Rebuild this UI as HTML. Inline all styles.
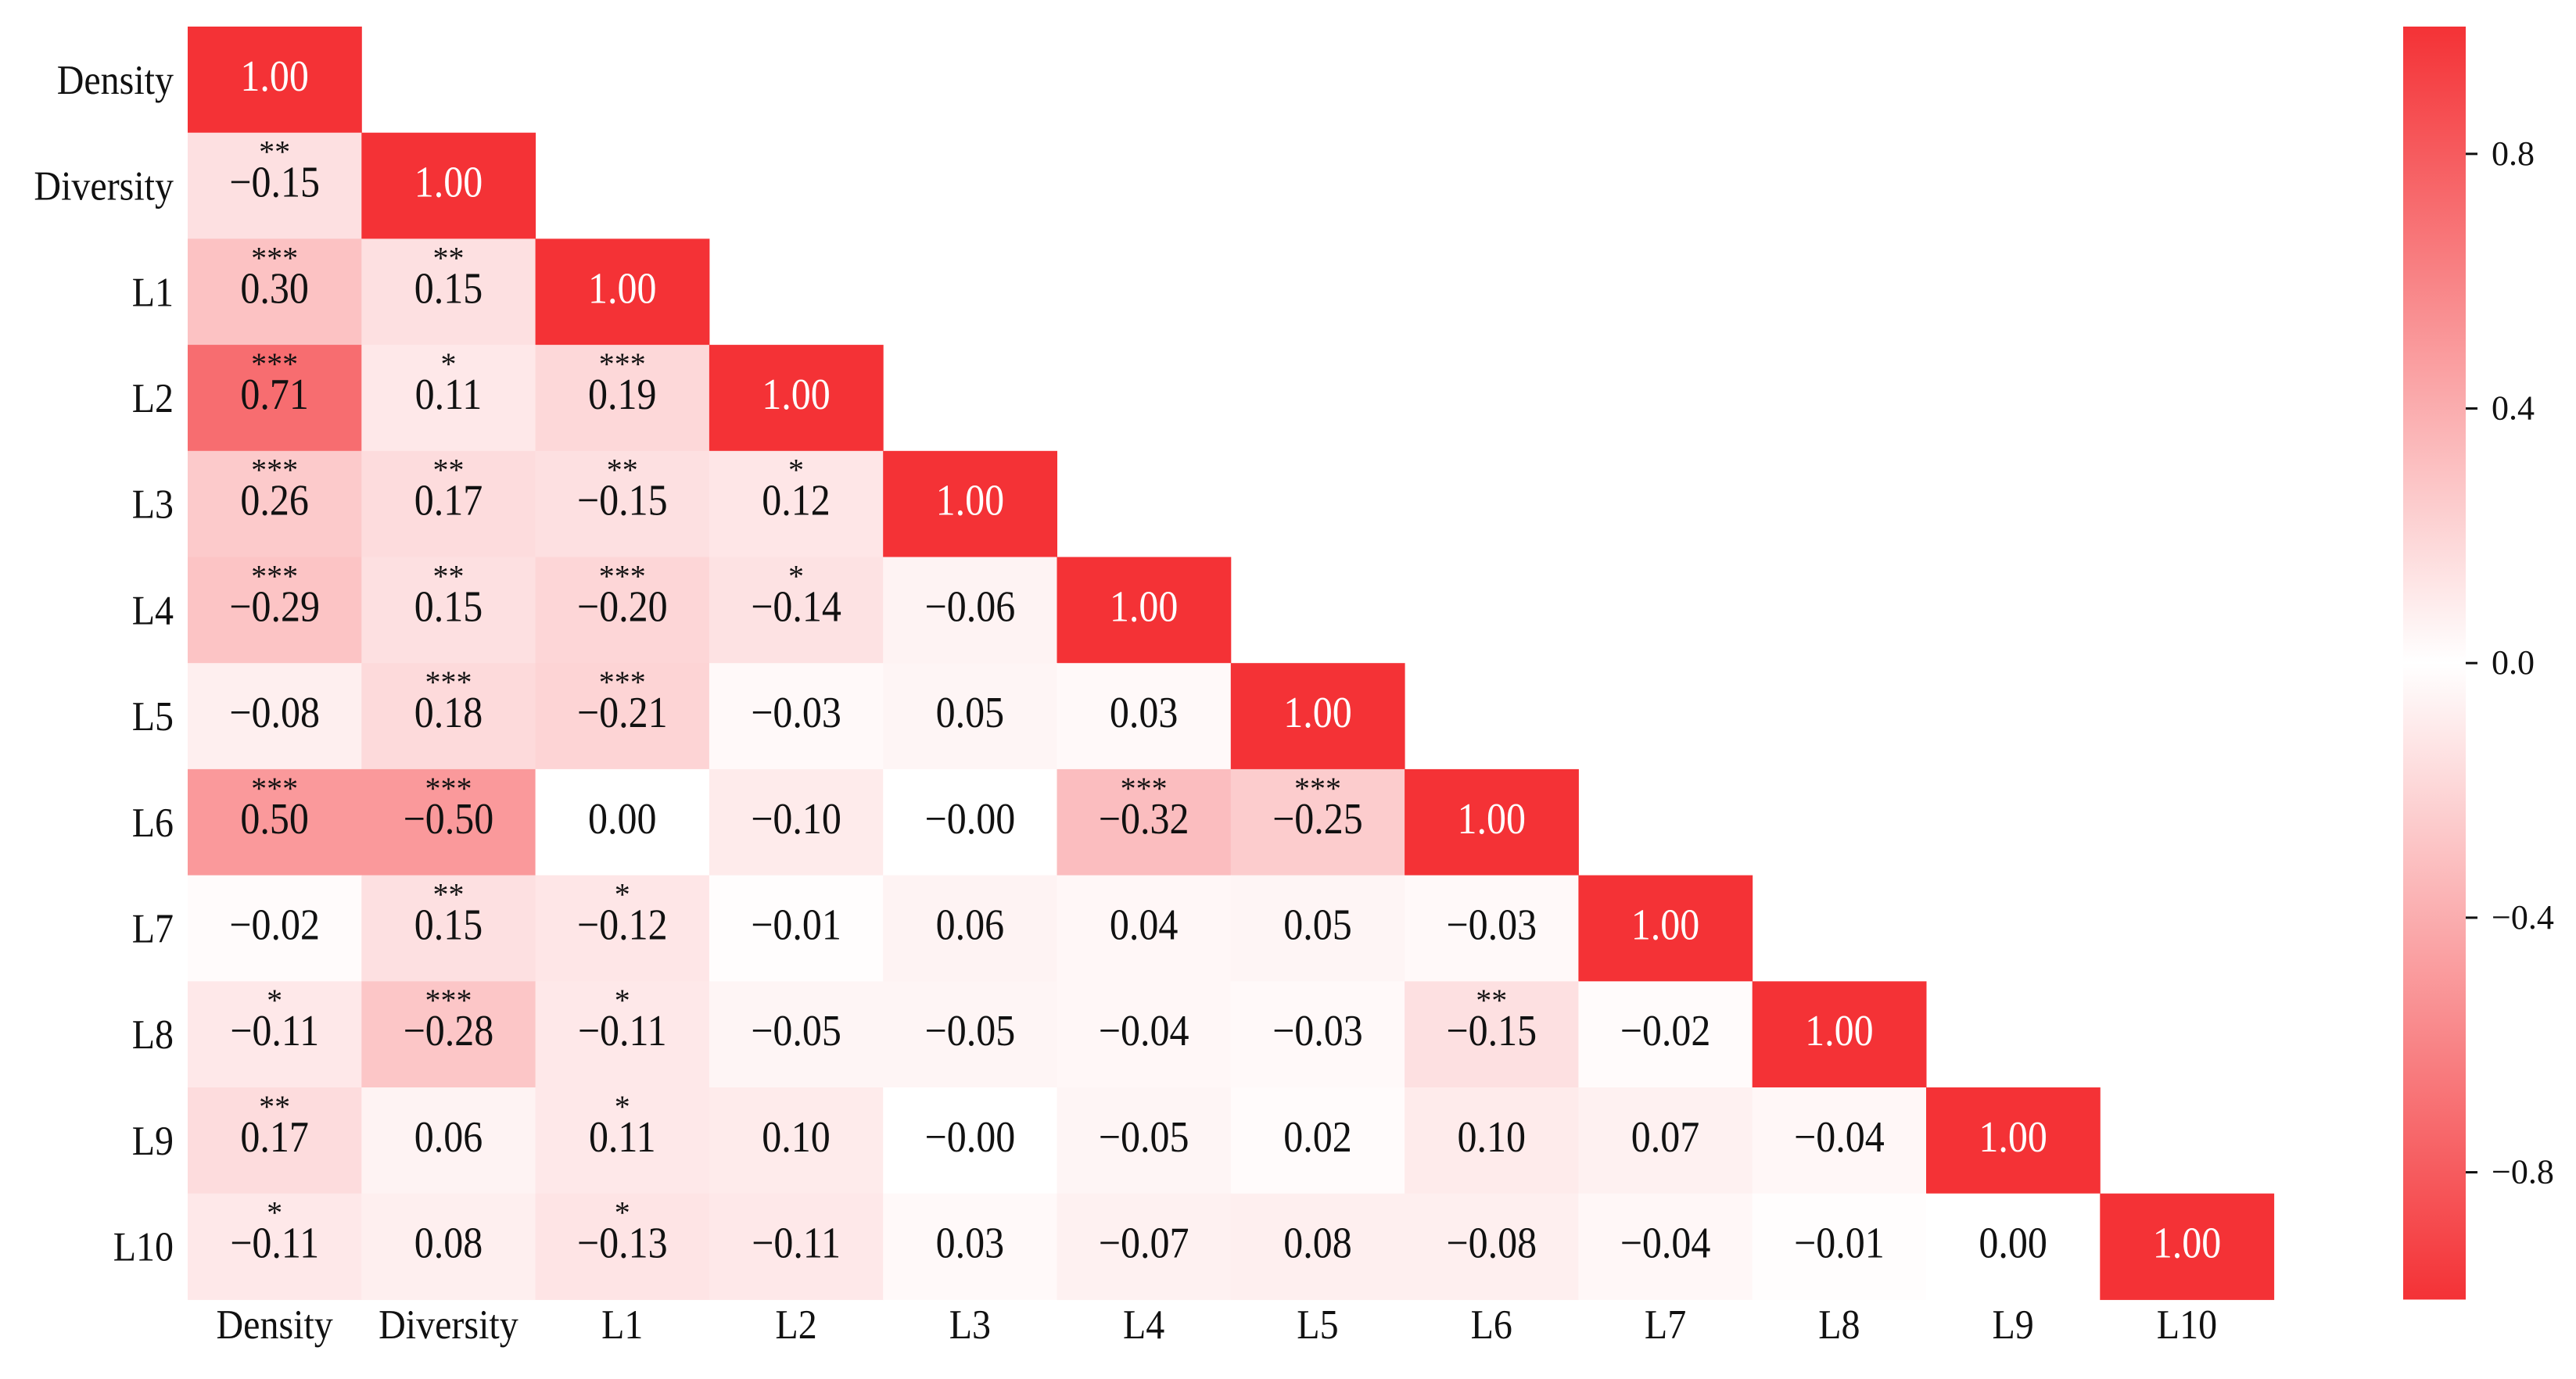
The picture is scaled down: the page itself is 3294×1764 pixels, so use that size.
<!DOCTYPE html>
<html><head><meta charset="utf-8"><style>
html,body{margin:0;padding:0;background:#fff;}
svg{display:block;font-family:"Liberation Serif",serif;}
</style></head><body>
<svg id="chart" width="3294" height="1764" viewBox="0 0 3294 1764" xmlns="http://www.w3.org/2000/svg">
<defs>
<linearGradient id="cbg" x1="0" y1="0" x2="0" y2="1">
<stop offset="0" stop-color="#f43236"/>
<stop offset="0.5" stop-color="#ffffff"/>
<stop offset="1" stop-color="#f43236"/>
</linearGradient>
</defs>
<g id="cells"></g>
<g id="labels"></g>
<g id="cbar"></g>
</svg>
<script>
const labels = ["Density","Diversity","L1","L2","L3","L4","L5","L6","L7","L8","L9","L10"];
const values = [
 [1],
 [-0.15,1],
 [0.30,0.15,1],
 [0.71,0.11,0.19,1],
 [0.26,0.17,-0.15,0.12,1],
 [-0.29,0.15,-0.20,-0.14,-0.06,1],
 [-0.08,0.18,-0.21,-0.03,0.05,0.03,1],
 [0.50,-0.50,0.00,-0.10,-0.001,-0.32,-0.25,1],
 [-0.02,0.15,-0.12,-0.01,0.06,0.04,0.05,-0.03,1],
 [-0.11,-0.28,-0.11,-0.05,-0.05,-0.04,-0.03,-0.15,-0.02,1],
 [0.17,0.06,0.11,0.10,-0.001,-0.05,0.02,0.10,0.07,-0.04,1],
 [-0.11,0.08,-0.13,-0.11,0.03,-0.07,0.08,-0.08,-0.04,-0.01,0.00,1]
];
const stars = [
 [""],
 ["**",""],
 ["***","**",""],
 ["***","*","***",""],
 ["***","**","**","*",""],
 ["***","**","***","*","",""],
 ["","***","***","","","",""],
 ["***","***","","","","***","***",""],
 ["","**","*","","","","","",""],
 ["*","***","*","","","","","**","",""],
 ["**","","*","","","","","","","",""],
 ["*","","*","","","","","","","","",""]
];
const cbTicks = [0.8,0.4,0.0,-0.4,-0.8];

const NS="http://www.w3.org/2000/svg";
const L=240,T=34,CW=222.3,CH=135.7,n=labels.length;
const xPos=j=>L+j*CW, yPos=i=>T+i*CH;
const cbTop=T, cbBot=T+n*CH;
const cbY=v=>cbTop+(1-v)/2*(cbBot-cbTop);
function color(v){const a=Math.min(1,Math.abs(v));
 const r=Math.round(255-a*(255-244)),g=Math.round(255-a*(255-50)),b=Math.round(255-a*(255-54));
 return `rgb(${r},${g},${b})`;}
function fmt(v){const s=Math.abs(v).toFixed(2);return (v<0?"\u2212":"")+s;}
function mk(tag,attrs,parent){const e=document.createElementNS(NS,tag);for(const k in attrs)e.setAttribute(k,attrs[k]);parent.appendChild(e);return e;}
const cells=document.getElementById('cells'),lab=document.getElementById('labels'),cb=document.getElementById('cbar');
values.forEach((row,i)=>row.forEach((v,j)=>{
 const r=mk('rect',{x:xPos(j),y:yPos(i),width:CW+0.5,height:CH+0.5,fill:color(v)},cells);
 
 
 const cx=xPos(j)+CW/2, cy=yPos(i)+CH/2;
 const t=mk('text',{x:0,y:0,transform:`translate(${cx},${cy+14}) scale(1,1.12)`,'text-anchor':'middle','font-size':50,fill:(i===j?'#fff':'#111')},cells);
 t.textContent=fmt(v);
 
 
 const s=stars[i][j];
 if(s){const st=mk('text',{x:cx,y:cy-30,'text-anchor':'middle','font-size':40,fill:'#111'},cells);
  st.textContent=s;
  
  }
}));
labels.forEach((name,i)=>{
 const t=mk('text',{x:0,y:0,transform:`translate(222,${yPos(i)+CH/2+18}) scale(1,1.1)`,'text-anchor':'end','font-size':48,fill:'#111'},lab);
 t.textContent=name;
 
 
 const u=mk('text',{x:0,y:0,transform:`translate(${xPos(i)+CW/2},1712) scale(1,1.1)`,'text-anchor':'middle','font-size':48,fill:'#111'},lab);
 u.textContent=name;
 
 
});
const bar=mk('rect',{x:3073,y:cbTop,width:80,height:cbBot-cbTop,fill:'url(#cbg)'},cb);


cbTicks.forEach(v=>{
 const y=cbY(v);
 const ln=mk('line',{x1:3153,x2:3168,y1:y,y2:y,stroke:'#111','stroke-width':3},cb);
 
 
 const t=mk('text',{x:3186,y:y+14,'font-size':44,fill:'#111'},cb);
 t.textContent=(v<0?"\u2212":"")+Math.abs(v).toFixed(1);
 
 
});
</script>
</body></html>
